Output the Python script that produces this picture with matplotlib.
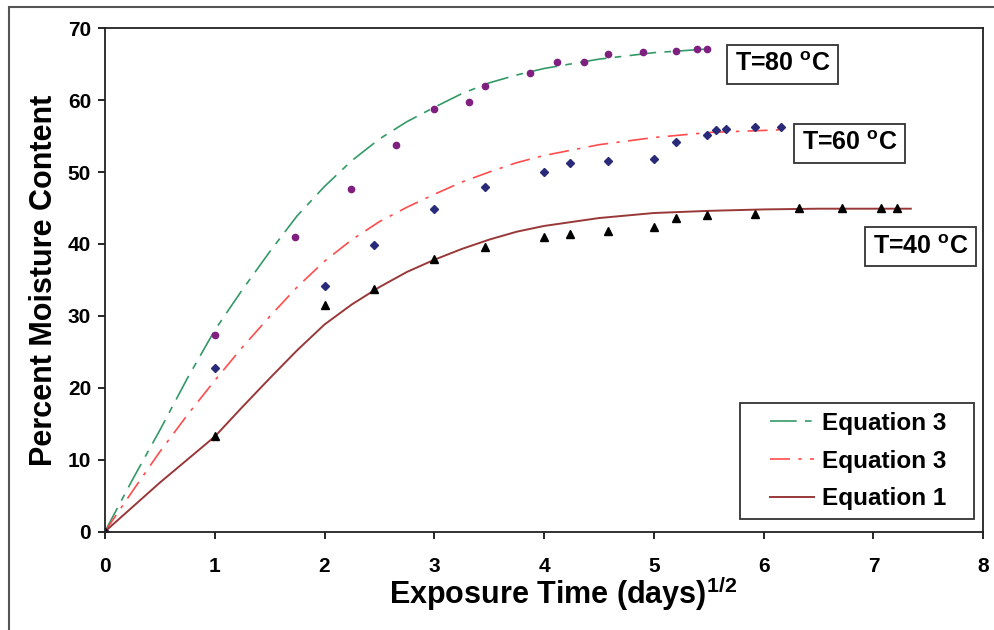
import matplotlib
matplotlib.use("Agg")
from matplotlib import pyplot as plt
from matplotlib.patches import Rectangle
from matplotlib.font_manager import FontProperties

plt.rcParams['font.family'] = ['Liberation Sans', 'DejaVu Sans']
plt.rcParams['font.weight'] = 'bold'
plt.rcParams['mathtext.fontset'] = 'custom'
plt.rcParams['mathtext.rm'] = 'Liberation Sans:bold'
plt.rcParams['mathtext.bf'] = 'Liberation Sans:bold'

# measured points (sqrt of days, percent moisture)
x80 = [0, 1.0, 1.73, 2.24, 2.65, 3.0, 3.32, 3.46, 3.87, 4.12, 4.36, 4.58, 4.90, 5.20, 5.39, 5.48]
y80 = [0, 27.3, 40.9, 47.6, 53.7, 58.7, 59.8, 62.0, 63.8, 65.3, 65.3, 66.4, 66.7, 66.9, 67.1, 67.1]

x60 = [0, 1.0, 2.0, 2.45, 3.0, 3.46, 4.0, 4.24, 4.58, 5.0, 5.20, 5.48, 5.57, 5.66, 5.92, 6.16]
y60 = [0, 22.8, 34.1, 39.8, 44.9, 47.9, 50.0, 51.3, 51.6, 51.8, 54.2, 55.1, 55.8, 56.0, 56.2, 56.2]

x40 = [0, 1.0, 2.0, 2.45, 3.0, 3.46, 4.0, 4.24, 4.58, 5.0, 5.20, 5.48, 5.92, 6.32, 6.71, 7.07, 7.21]
y40 = [0, 13.3, 31.5, 33.7, 37.9, 39.6, 41.0, 41.4, 41.8, 42.4, 43.6, 44.0, 44.2, 45.0, 45.0, 45.0, 45.0]

# model curves
cx80 = [0, 0.25, 0.5, 0.75, 1.0, 1.25, 1.5, 1.75, 2.0, 2.25, 2.5, 2.75, 3.0, 3.25, 3.5, 3.75,
        4.0, 4.5, 5.0, 5.48]
cy80 = [0, 7.2, 14.1, 21.3, 28.0, 33.6, 38.9, 43.9, 48.0, 51.6, 54.6, 57.0, 59.0, 60.9, 62.4, 63.5,
        64.4, 65.7, 66.6, 67.1]

cx60 = [0, 0.25, 0.5, 0.75, 1.0, 1.25, 1.5, 1.75, 2.0, 2.25, 2.5, 2.75, 3.0, 3.25, 3.5, 3.75,
        4.0, 4.5, 5.0, 5.5, 6.2]
cy60 = [0, 5.6, 11.1, 16.2, 21.0, 25.6, 29.9, 34.0, 37.6, 40.6, 43.1, 45.1, 46.9, 48.6, 50.0, 51.3,
        52.3, 53.8, 54.8, 55.5, 55.9]

cx40 = [0, 0.5, 1.0, 1.25, 1.5, 1.75, 2.0, 2.25, 2.5, 2.75, 3.0, 3.25, 3.5, 3.75, 4.0, 4.5,
        5.0, 5.5, 6.0, 6.5, 7.34]
cy40 = [0, 6.8, 13.2, 17.3, 21.3, 25.2, 28.8, 31.6, 34.0, 36.1, 37.8, 39.3, 40.6, 41.7, 42.5, 43.6,
        44.3, 44.6, 44.8, 44.9, 44.9]

fig = plt.figure(figsize=(9.94, 6.30), dpi=100)
ax = fig.add_axes([0.1056, 0.1563, 0.8836, 0.7989])

ax.plot(cx80, cy80, color='#339966', lw=1.2, dashes=(16, 5, 4, 5), label='Equation 3')
ax.plot(cx60, cy60, color='#ff4c4c', lw=1.2, dashes=(12, 5, 2, 5), label='Equation 3')
ax.plot(cx40, cy40, color='#993838', lw=1.4, label='Equation 1')

ax.plot(x80, y80, 'o', color='#7f1f7f', ms=4.5, mec='#7f1f7f')
ax.plot(x60, y60, 'D', color='#2a2a7a', ms=4.5)
ax.plot(x40, y40, '^', color='black', ms=5.5)

ax.set_xlim(0, 8)
ax.set_ylim(0, 70)
ax.set_xticks(range(0, 9))
ax.set_yticks(range(0, 71, 10))
ax.tick_params(direction='out', length=5, width=1.2, labelsize=15)
ax.tick_params(axis='x', pad=13)
ax.tick_params(axis='y', pad=5)
for lab in ax.get_xticklabels() + ax.get_yticklabels():
    lab.set_fontweight('bold')
for s in ax.spines.values():
    s.set_linewidth(1.3)
    s.set_color('#222222')

ax.set_xlabel(r'Exposure Time (days)$^{\mathbf{1/2}}$', fontsize=22, fontweight='bold', labelpad=0)
ax.xaxis.set_label_coords(0.522, -0.085)
ax.set_ylabel('Percent Moisture Content', fontsize=22, fontweight='bold', labelpad=6)

box = dict(boxstyle='square,pad=0.3', fc='white', ec='#333333', lw=1.3)
ax.text(6.17, 65.0, r'T=80 $^{\mathbf{o}}$C', fontsize=18, fontweight='bold', ha='center', va='center', bbox=box)
ax.text(6.78, 54.0, r'T=60 $^{\mathbf{o}}$C', fontsize=18, fontweight='bold', ha='center', va='center', bbox=box)
ax.text(7.43, 39.6, r'T=40 $^{\mathbf{o}}$C', fontsize=18, fontweight='bold', ha='center', va='center', bbox=box)

# legend: frame drawn separately so it can be wider than the entries
ax.add_patch(Rectangle((0.7232, 0.0242), 0.2665, 0.2317, transform=ax.transAxes,
                       fc='white', ec='#333333', lw=1.3, zorder=4))
legfont = FontProperties(family='Liberation Sans', weight='bold', size=17.5)
leg = ax.legend(loc='center', bbox_to_anchor=(0.858, 0.140), prop=legfont, frameon=False,
                handlelength=1.8, labelspacing=0.6, handletextpad=0.35, borderpad=0)
leg.set_zorder(5)
for t in leg.get_texts():
    t.set_fontweight('bold')

# outer chart frame
fig.patches.append(Rectangle((9 / 994, -0.05), 1.2, 1 - 7 / 630 + 0.05, transform=fig.transFigure,
                             fill=False, ec='#555555', lw=1.5))

fig.savefig('out.png', dpi=100)
